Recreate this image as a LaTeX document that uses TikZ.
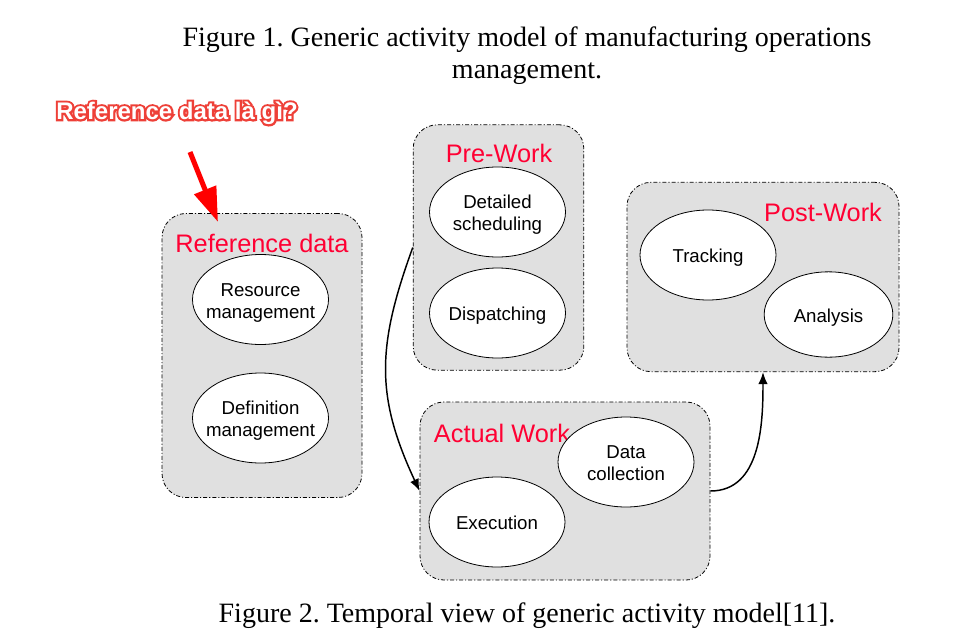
\documentclass[tikz,border=0pt]{standalone}
\usepackage{fontspec}
\setmainfont{Liberation Serif}
\newfontfamily\arialfont{Liberation Sans}
\usepackage{tikz}
\usetikzlibrary{positioning}
\usetikzlibrary{arrows.meta,shapes}
\definecolor{titlered}{RGB}{255,0,51}
\definecolor{notered}{RGB}{238,64,56}
\definecolor{phasegray}{RGB}{224,224,224}
\tikzstyle{phase}=[draw=black,fill=phasegray,rounded corners=18pt,line width=0.6pt,dash pattern=on 3pt off 1.5pt on 0.8pt off 1.5pt,inner sep=0pt]
\tikzstyle{activity}=[ellipse,draw=black,fill=white,line width=0.6pt,minimum width=102pt,minimum height=67.5pt,inner xsep=-14pt,inner ysep=-8pt,align=center,font=\arialfont\fontsize{14}{16.5}\selectfont]
\tikzstyle{phasetitle}=[text=titlered,inner sep=0pt,font=\arialfont\fontsize{19}{22}\selectfont]
\tikzstyle{caption}=[inner sep=0pt,align=center,font=\fontsize{21}{24}\selectfont]
\tikzstyle{flow}=[-{Latex[length=9pt,width=7pt]},line width=1.1pt]
\newcommand{\outlined}[1]{\rlap{\color{notered}\special{pdf:literal direct 2 Tr 3.2 w}#1\special{pdf:literal direct 0 Tr}}{\color{white}#1}}
\newcommand{\lowered}[1]{\raisebox{-2.5pt}[\height][\depth]{#1}}
\frenchspacing

\begin{document}
\begin{tikzpicture}[x=0.75pt,y=-0.75pt]

  \useasboundingbox (0,0) rectangle (963,639);

  \node[caption] (fig1) at (527,56) {Figure 1. Generic activity model of manufacturing operations\\management.};
  \node[caption] (fig2) at (527,616) {Figure 2. Temporal view of generic activity model[11].};

  % the four phases
  \node[phase,minimum width=150pt,minimum height=213pt] (refbox) at (262,355.5) {};
  \node[phase,minimum width=128pt,minimum height=184pt] (prebox) at (498.5,247.5) {};
  \node[phase,minimum width=204pt,minimum height=142pt] (postbox) at (763,277) {};
  \node[phase,minimum width=217.5pt,minimum height=133.5pt] (actbox) at (565,491) {};

  \foreach \pos/\name/\txt in {{(262,243)/reftitle/Reference data}, {(499,153)/pretitle/Pre-Work}, {(823,212)/posttitle/Post-Work}, {(502,433)/acttitle/Actual Work}}
      \node[phasetitle] (\name) at \pos {\txt};

  \foreach \pos/\name/\txt in {{(260.5,299.5)/resource/{Resource\\management}}, {(260.5,418)/definition/{Definition\\management}}, {(497.5,212)/scheduling/{Detailed\\scheduling}}, {(497.5,313)/dispatching/Dispatching}, {(708,255)/tracking/Tracking}, {(626,462)/collection/{Data\\collection}}, {(497,522)/execution/Execution}}
      \node[activity] (\name) at \pos {\lowered{\begin{tabular}{@{}c@{}}\txt\end{tabular}}};
  \node[activity,minimum width=96.5pt,minimum height=64pt] (analysis) at (828.5,314.5) {\lowered{Analysis}};

  \draw[flow] (prebox.west) to[out=250,in=115,looseness=1.1] (actbox.west);
  \draw[flow] (actbox.east) to[out=0,in=-90] (postbox.south);

  % note on the reference data
  \node[inner sep=0pt,font=\arialfont\bfseries\fontsize{18}{22}\selectfont] (asknote) at (177,113) {\outlined{Reference data là gì?}};
  \coordinate (notetail) at (190,152);
  \coordinate (notetip) at (218,222);
  \draw[-{Triangle[length=26pt,width=17pt]},red,line width=3.8pt] (notetail) -- (notetip);

\end{tikzpicture}
\end{document}
